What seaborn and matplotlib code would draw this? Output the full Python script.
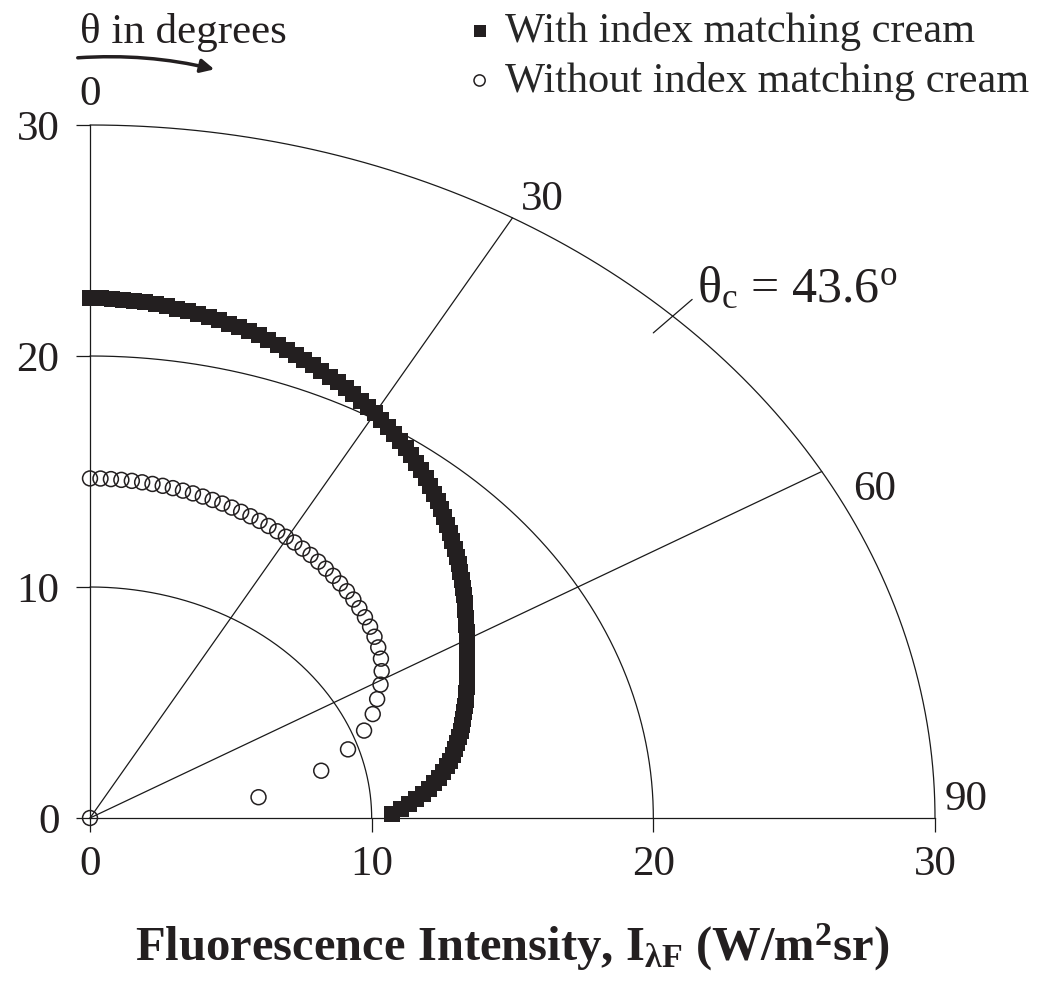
import numpy as np
import pandas as pd
import seaborn as sns
import matplotlib.pyplot as plt

################################# data #####################################

# angle theta in degrees (0 = vertical axis) and intensity (W/m2sr)
with_theta = [0, 1, 2, 3, 4, 5, 6, 7, 8, 9,
              10, 11, 12, 13, 14, 15, 16, 17, 18, 19,
              20, 21, 22, 23, 24, 25, 26, 27, 28, 29,
              30, 31, 32, 33, 34, 35, 36, 37, 38, 39,
              40, 41, 42, 43, 44, 45, 46, 47, 48, 49,
              50, 51, 52, 53, 54, 55, 56, 57, 58, 59,
              60, 61, 62, 63, 64, 65, 66, 67, 68, 69,
              70, 71, 72, 73, 74, 75, 76, 77, 78, 79,
              80, 81, 82, 83, 84, 85, 86, 87, 88, 89]
with_I = [22.50, 22.50, 22.49, 22.47, 22.44, 22.41, 22.37, 22.32, 22.27, 22.22,
          22.16, 22.10, 22.03, 21.96, 21.89, 21.81, 21.73, 21.64, 21.55, 21.45,
          21.35, 21.25, 21.14, 21.03, 20.92, 20.81, 20.70, 20.58, 20.46, 20.34,
          20.22, 20.09, 19.96, 19.83, 19.69, 19.55, 19.40, 19.25, 19.10, 18.94,
          18.78, 18.61, 18.44, 18.27, 18.10, 17.93, 17.76, 17.59, 17.42, 17.25,
          17.08, 16.91, 16.74, 16.57, 16.40, 16.24, 16.08, 15.92, 15.76, 15.60,
          15.45, 15.31, 15.17, 15.04, 14.91, 14.78, 14.65, 14.53, 14.41, 14.29,
          14.17, 14.05, 13.93, 13.81, 13.69, 13.57, 13.44, 13.31, 13.17, 13.02,
          12.86, 12.69, 12.51, 12.31, 12.10, 11.87, 11.62, 11.35, 11.05, 10.72]

without_theta = [0.00, 1.45, 2.90, 4.35, 5.81, 7.26, 8.72, 10.18, 11.64, 13.11,
                 14.58, 16.06, 17.55, 19.04, 20.54, 22.04, 23.56, 25.08, 26.62, 28.17,
                 29.73, 31.31, 32.90, 34.51, 36.14, 37.79, 39.47, 41.17, 42.90, 44.67,
                 46.47, 48.32, 50.21, 52.16, 54.18, 56.27, 58.46, 60.76, 63.21, 65.86,
                 68.75, 72.03, 76.00, 81.45, 90.00]
without_I = [14.70, 14.70, 14.69, 14.68, 14.67, 14.65, 14.63, 14.61, 14.58, 14.55,
             14.52, 14.48, 14.44, 14.40, 14.35, 14.30, 14.25, 14.20, 14.14, 14.08,
             14.02, 13.96, 13.89, 13.82, 13.74, 13.66, 13.58, 13.49, 13.40, 13.30,
             13.19, 13.07, 12.94, 12.79, 12.62, 12.42, 12.15, 11.82, 11.42, 11.00,
             10.44, 9.63, 8.46, 6.05, 0.00]

rings = [10, 20, 30]
spokes = [30, 60]
theta_c = 43.6


def to_xy(theta, I):
    t = np.radians(np.asarray(theta, dtype=float))
    I = np.asarray(I, dtype=float)
    return pd.DataFrame({'x': I * np.sin(t), 'y': I * np.cos(t)})


################################# plot #####################################

sns.set_theme(style="white")
plt.rcParams['font.family'] = ['Liberation Serif', 'DejaVu Serif']
plt.rcParams['mathtext.fontset'] = 'custom'
plt.rcParams['mathtext.rm'] = 'Liberation Serif'
plt.rcParams['mathtext.it'] = 'Liberation Serif:italic'
plt.rcParams['mathtext.bf'] = 'Liberation Serif:bold'

ink = '#231f20'
fig = plt.figure(figsize=(10.54, 9.98), dpi=100)
ax = fig.add_axes([90 / 1054, 180 / 998, 845 / 1054, 693 / 998])

# polar grid: rings and spokes
t = np.radians(np.linspace(0, 90, 300))
for r in rings:
    ax.plot(r * np.sin(t), r * np.cos(t), color='k', lw=0.9, clip_on=False, zorder=1)
for a in spokes:
    ar = np.radians(a)
    ax.plot([0, 30 * np.sin(ar)], [0, 30 * np.cos(ar)], color='k', lw=0.9,
            clip_on=False, zorder=1)
tc = np.radians(theta_c)
ax.plot([29 * np.sin(tc), 31 * np.sin(tc)], [29 * np.cos(tc), 31 * np.cos(tc)],
        color='k', lw=0.9, clip_on=False)

df_with = to_xy(with_theta, with_I)
df_without = to_xy(without_theta, without_I)

sns.scatterplot(data=df_with, x='x', y='y', marker='s', color=ink, s=120,
                edgecolor=ink, linewidth=0, label='With index matching cream',
                ax=ax, clip_on=False, zorder=3)
sns.scatterplot(data=df_without, x='x', y='y', marker='o', color='none', s=115,
                edgecolor=ink, linewidth=1.1,
                label='Without index matching cream', ax=ax, clip_on=False, zorder=3)

ax.set_xlim(0, 30)
ax.set_ylim(0, 30)
ax.set_xticks([0, 10, 20, 30])
ax.set_yticks([0, 10, 20, 30])
for s in ['top', 'right']:
    ax.spines[s].set_visible(False)
for s in ['left', 'bottom']:
    ax.spines[s].set_color('k')
    ax.spines[s].set_linewidth(0.9)
ax.tick_params(direction='out', length=10, width=0.9, color='k',
               labelsize=31, labelcolor=ink, left=True, bottom=True)
ax.tick_params(axis='x', pad=10)
ax.tick_params(axis='y', pad=12)
ax.set_xlabel(r'Fluorescence Intensity, I$_{\mathbf{\lambda F}}$ (W/m$^{\mathbf{2}}$sr)',
              fontsize=35, fontweight='bold', labelpad=27, color=ink)
ax.set_ylabel('')

# angle labels
ax.text(0, 31.3, '0', fontsize=31, ha='center', va='center', color=ink)
ax.text(16.05, 26.75, '30', fontsize=31, ha='center', va='center', color=ink)
ax.text(27.87, 14.2, '60', fontsize=31, ha='center', va='center', color=ink)
ax.text(31.1, 0.78, '90', fontsize=31, ha='center', va='center', color=ink)
ax.text(21.55, 22.86, 'θ$_{\\rm c}$ = 43.6$^{\\rm o}$', fontsize=36,
        ha='left', va='center', color=ink)

# direction hint
fig.text(80 / 1054, 1 - 32 / 998, 'θ in degrees', fontsize=31, ha='left',
         va='center', color=ink)
fig.patches.append(plt.matplotlib.patches.FancyArrowPatch(
    (75 / 1054, 1 - 58 / 998), (217 / 1054, 1 - 70 / 998),
    transform=fig.transFigure, arrowstyle='-|>,head_length=8,head_width=4',
    connectionstyle='arc3,rad=-0.08', color=ink, lw=2.5))

ax.legend(loc='upper left', bbox_to_anchor=(469 / 1054, 1 - 12 / 998),
          bbox_transform=fig.transFigure, frameon=False, fontsize=30.5,
          handlelength=0.5, handletextpad=0.35, labelspacing=0.25,
          borderpad=0, borderaxespad=0, markerscale=0.75)

plt.savefig('out.png', dpi=100)
